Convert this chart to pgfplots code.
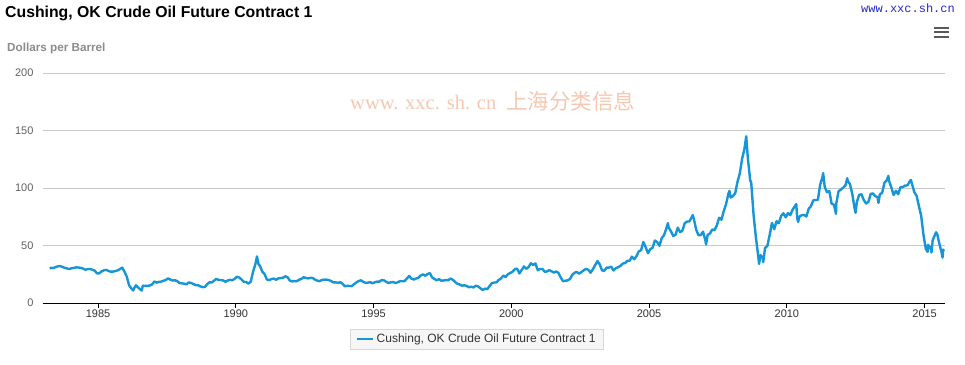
\documentclass[border=0pt]{standalone}
\usepackage{pgfplots}
\pgfplotsset{compat=1.18}
\usepackage{pgfplotstable}
\usepackage{fontspec}
\setmainfont{Liberation Sans}
\newfontfamily\cjk{Noto Sans CJK SC}
\newfontfamily\wmserif{Liberation Serif}
\newfontfamily\monof{Liberation Mono}
\definecolor{oil}{RGB}{22,150,214}
\definecolor{gridc}{RGB}{200,200,200}
\definecolor{ticklab}{RGB}{96,96,96}
\definecolor{xlab}{RGB}{51,51,51}
\definecolor{wm}{RGB}{246,200,178}
\definecolor{site}{RGB}{40,40,200}
\definecolor{subt}{RGB}{140,140,140}
\definecolor{menu}{RGB}{90,90,90}
\definecolor{legdraw}{RGB}{215,215,215}
\definecolor{legfill}{RGB}{246,246,246}

\pgfplotstableread{
yr mo v
1983 3.5 29.8
1983 4 30.6
1983 5 30.4
1983 6 31.2
1983 7 31.9
1983 8 32.1
1983 9 31.3
1983 10 30.6
1983 11 30.0
1983 12 29.6
1984 1 30.2
1984 2 30.5
1984 3 31.0
1984 4 30.8
1984 5 30.6
1984 6 29.9
1984 7 28.9
1984 8 29.5
1984 9 29.6
1984 10 28.9
1984 11 28.2
1984 12 25.8
1985 1 25.8
1985 2 27.5
1985 3 28.4
1985 4 28.8
1985 5 27.9
1985 6 27.2
1985 7 27.3
1985 8 27.8
1985 9 28.3
1985 10 29.5
1985 11 30.8
1985 12 27.2
1986 1 22.9
1986 2 15.4
1986 3 12.6
1986 3.8 10.9
1986 4.3 13.2
1986 5 15.4
1986 6 13.4
1986 7 11.6
1986 7.5 10.8
1986 8 15.1
1986 9 14.9
1986 10 14.9
1986 11 15.2
1986 12 16.1
1987 1 18.7
1987 2 17.7
1987 3 18.3
1987 4 18.6
1987 5 19.4
1987 6 20.0
1987 7 21.4
1987 8 20.3
1987 9 19.5
1987 10 19.8
1987 11 18.9
1987 12 17.3
1988 1 17.1
1988 2 16.8
1988 3 16.2
1988 4 17.9
1988 5 17.4
1988 6 16.5
1988 7 15.5
1988 8 15.5
1988 9 14.5
1988 10 13.8
1988 11 14.0
1988 12 16.3
1989 1 18.0
1989 2 17.8
1989 3 19.4
1989 4 21.0
1989 5 20.0
1989 6 20.0
1989 7 19.6
1989 8 18.5
1989 9 19.6
1989 10 20.1
1989 11 19.8
1989 12 21.1
1990 1 22.9
1990 2 22.1
1990 3 20.4
1990 4 18.4
1990 5 18.2
1990 6 16.9
1990 7 18.6
1990 8 27.2
1990 9 33.7
1990 9.7 40.5
1990 10.4 33.5
1990 11 32.3
1990 12 27.3
1991 1 25.2
1991 2 20.5
1991 3 19.9
1991 4 20.8
1991 5 21.2
1991 6 20.2
1991 7 21.4
1991 8 21.7
1991 9 21.9
1991 10 23.2
1991 11 22.5
1991 12 19.5
1992 1 18.8
1992 2 19.0
1992 3 18.9
1992 4 20.2
1992 5 20.9
1992 6 22.4
1992 7 21.8
1992 8 21.4
1992 9 21.9
1992 10 21.7
1992 11 20.3
1992 12 19.4
1993 1 19.0
1993 2 20.1
1993 3 20.3
1993 4 20.3
1993 5 19.9
1993 6 19.1
1993 7 17.9
1993 8 18.0
1993 9 17.5
1993 10 18.1
1993 11 16.7
1993 12 14.5
1994 1 15.0
1994 2 14.8
1994 3 14.7
1994 4 16.4
1994 5 17.9
1994 6 19.1
1994 7 19.7
1994 8 18.4
1994 9 17.5
1994 10 17.7
1994 11 18.1
1994 12 17.2
1995 1 18.0
1995 2 18.6
1995 3 18.5
1995 4 19.9
1995 5 19.7
1995 6 18.4
1995 7 17.3
1995 8 18.0
1995 9 18.2
1995 10 17.4
1995 11 18.0
1995 12 19.0
1996 1 18.9
1996 2 19.1
1996 3 21.3
1996 4 23.5
1996 5 21.2
1996 6 20.4
1996 7 21.3
1996 8 21.9
1996 9 23.9
1996 10 24.9
1996 11 23.7
1996 12 25.2
1997 1 26.0
1997 2 22.2
1997 3 20.9
1997 4 19.7
1997 5 20.8
1997 6 19.3
1997 7 19.6
1997 8 19.9
1997 9 19.8
1997 10 21.3
1997 11 20.2
1997 12 18.3
1998 1 16.7
1998 2 16.1
1998 3 15.0
1998 4 15.4
1998 5 14.9
1998 6 13.7
1998 7 14.2
1998 8 13.5
1998 9 15.0
1998 10 14.4
1998 11 12.9
1998 12 11.3
1999 1 12.5
1999 2 12.0
1999 3 14.7
1999 4 17.3
1999 5 17.8
1999 6 17.9
1999 7 20.1
1999 8 21.3
1999 9 23.9
1999 10 22.6
1999 11 25.0
1999 12 26.1
2000 1 27.2
2000 2 29.4
2000 3 29.9
2000 4 25.7
2000 5 28.8
2000 6 31.8
2000 7 29.7
2000 8 31.3
2000 9 34.5
2000 10 33.1
2000 11 34.4
2000 12 28.5
2001 1 29.6
2001 2 29.6
2001 3 27.2
2001 4 27.4
2001 5 28.6
2001 6 27.6
2001 7 26.4
2001 8 27.4
2001 9 26.2
2001 10 22.2
2001 11 19.0
2001 12 19.3
2002 1 19.7
2002 2 20.7
2002 3 24.4
2002 4 26.3
2002 5 27.0
2002 6 25.5
2002 7 26.9
2002 8 28.4
2002 9 29.7
2002 10 28.9
2002 11 26.3
2002 12 29.4
2003 1 32.9
2003 2 36.5
2003 3 33.6
2003 4 28.3
2003 5 28.1
2003 6 30.7
2003 7 30.8
2003 8 31.6
2003 9 28.3
2003 10 30.3
2003 11 31.1
2003 12 32.2
2004 1 34.3
2004 2 34.7
2004 3 36.7
2004 4 36.7
2004 5 40.3
2004 6 38.0
2004 7 40.7
2004 8 44.9
2004 9 45.9
2004 10 53.1
2004 11 48.5
2004 12 43.3
2005 1 46.8
2005 2 48.0
2005 3 54.3
2005 4 53.0
2005 5 49.8
2005 6 56.4
2005 7 59.0
2005 8 64.9
2005 8.7 69.5
2005 9 65.6
2005 10 62.4
2005 11 58.3
2005 12 59.4
2006 1 65.5
2006 2 61.6
2006 3 62.9
2006 4 69.4
2006 5 70.8
2006 6 70.9
2006 7 74.4
2006 7.5 76.5
2006 8 73.0
2006 9 63.8
2006 10 58.9
2006 11 59.1
2006 12 62.0
2007 1 54.5
2007 1.3 51.0
2007 2 59.3
2007 3 60.4
2007 4 63.9
2007 5 63.4
2007 6 67.5
2007 7 74.1
2007 8 72.4
2007 9 79.9
2007 10 85.8
2007 11 94.8
2007 11.5 97.5
2007 12 91.7
2008 1 93.0
2008 2 95.4
2008 3 105.5
2008 4 112.6
2008 5 125.4
2008 6 133.9
2008 6.8 145.0
2008 7.5 126.0
2008 8 116.7
2008 8.5 107.0
2008 9 104.1
2008 10 76.6
2008 11 57.3
2008 12 41.1
2008 12.4 34.0
2009 1 41.7
2009 2 39.1
2009 2.2 35.5
2009 3 47.9
2009 4 49.6
2009 5 59.0
2009 6 69.6
2009 7 64.2
2009 8 71.1
2009 9 69.4
2009 10 75.7
2009 11 78.0
2009 12 74.5
2010 1 78.3
2010 2 76.4
2010 3 81.2
2010 4 84.3
2010 4.6 86.0
2010 5 73.7
2010 5.4 70.5
2010 6 75.3
2010 7 76.3
2010 8 76.6
2010 9 75.2
2010 10 81.9
2010 11 84.3
2010 12 89.2
2011 1 89.6
2011 2 89.6
2011 3 102.9
2011 4 109.5
2011 4.3 113.0
2011 5 100.9
2011 6 96.3
2011 7 97.3
2011 8 86.3
2011 9 85.5
2011 9.9 77.5
2011 10 86.3
2011 11 97.2
2011 12 98.6
2012 1 100.3
2012 2 102.2
2012 2.8 108.5
2012 3 106.2
2012 4 103.3
2012 5 94.7
2012 6 82.3
2012 6.4 78.5
2012 7 87.9
2012 8 94.1
2012 9 94.5
2012 10 89.5
2012 11 86.5
2012 12 87.9
2013 1 94.8
2013 2 95.3
2013 3 92.9
2013 4 92.0
2013 4.4 87.0
2013 5 94.5
2013 6 95.8
2013 7 104.6
2013 8 106.6
2013 8.7 110.5
2013 9 106.3
2013 10 100.5
2013 11 93.9
2013 12 97.6
2014 1 94.6
2014 2 100.8
2014 3 100.8
2014 4 102.1
2014 5 102.2
2014 6 105.8
2014 6.5 107.0
2014 7 103.6
2014 8 96.5
2014 9 93.2
2014 10 84.4
2014 11 75.8
2014 12 59.3
2015 1 47.2
2015 1.8 44.5
2015 2 50.6
2015 3 47.8
2015 3.5 44.0
2015 4 54.5
2015 5 59.3
2015 5.5 61.5
2015 6 59.8
2015 7 50.9
2015 8 42.9
2015 8.3 39.5
2015 8.6 46.5
2015 8.8 45.0
}\oildata

\begin{document}
\begin{tikzpicture}
\fill[white] (0pt,0pt) rectangle (965pt,364pt);
\useasboundingbox (0pt,0pt) rectangle (965pt,364pt);
\begin{axis}[
  at={(43pt,61pt)}, anchor=south west,
  scale only axis, width=902pt, height=230pt,
  xmin=1983, xmax=2015.74, ymin=0, ymax=200,
  axis lines*=left,
  y axis line style={draw=none},
  x axis line style={black, line width=1pt},
  xtick={1985,1990,...,2015},
  ytick={0,50,...,200},
  ytick style={draw=none},
  xtick style={black, line width=0.8pt},
  major tick length=5pt,
  tick align=outside,
  ymajorgrids,
  grid style={gridc, line width=0.9pt},
  /pgf/number format/assume math mode=true,
  /pgf/number format/1000 sep={},
  xticklabel style={font=\fontsize{11}{13}\selectfont, text=xlab, yshift=2pt},
  yticklabel style={font=\fontsize{11}{13}\selectfont, text=ticklab, xshift=-1pt},
  legend style={at={(0.481,-0.157)}, anchor=center,
    draw=legdraw, fill=legfill,
    font=\fontsize{12}{14}\selectfont, text=xlab,
    inner xsep=6pt, inner ysep=3pt},
  legend image code/.code={\draw[oil, line width=2.4pt] (0pt,0pt) -- (16pt,0pt);},
]
\addplot[oil, line width=2.4pt, line join=round] table[x expr=\thisrow{yr}+(\thisrow{mo}-0.5)/12, y=v]{\oildata};
\addlegendentry{Cushing, OK Crude Oil Future Contract 1}
\end{axis}
\node[anchor=base west, inner sep=0pt] at (5pt,346.5pt) {\fontsize{15.8}{18}\selectfont\bfseries Cushing, OK Crude Oil Future Contract 1};
\node[anchor=base west, inner sep=0pt, text=subt] at (7pt,312pt) {\fontsize{11.7}{13}\selectfont\bfseries Dollars per Barrel};
\node[anchor=base west, inner sep=0pt, text=site] at (861pt,351pt) {\fontsize{12}{14}\selectfont\monof www.xxc.sh.cn};
\fill[menu] (934pt,335pt) rectangle (949pt,337pt);
\fill[menu] (934pt,330.5pt) rectangle (949pt,332.5pt);
\fill[menu] (934pt,326pt) rectangle (949pt,328pt);
\node[anchor=base west, inner sep=0pt, text=wm] at (350pt,254pt) {\fontsize{20.5}{22}\selectfont\wmserif www. xxc. sh. cn\hspace{10pt}\fontsize{21.5}{22}\selectfont\cjk 上海分类信息};
\end{tikzpicture}
\end{document}
